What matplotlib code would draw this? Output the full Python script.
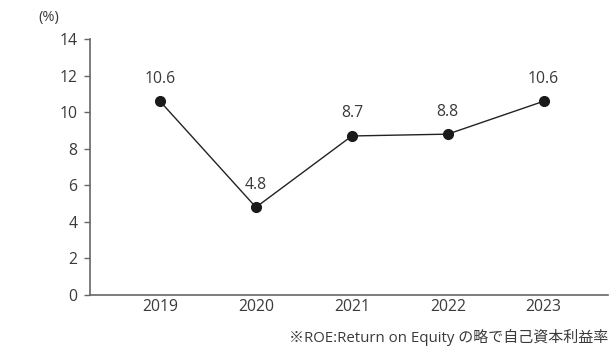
import matplotlib
matplotlib.use("Agg")
import matplotlib.pyplot as plt

# ------------------ データ ------------------
years = ["2019", "2020", "2021", "2022", "2023"]
roe = [10.6, 4.8, 8.7, 8.8, 10.6]
y_ticks = [0, 2, 4, 6, 8, 10, 12, 14]

plt.rcParams["font.family"] = ["Open Sans", "Noto Sans CJK JP", "DejaVu Sans"]

text_color = "#3a3a3a"
axis_color = "#666666"

fig = plt.figure(figsize=(6.11, 3.46), dpi=100)
ax = fig.add_axes([0.1473, 0.1474, 0.8477, 0.7396])

x = list(range(len(years)))
ax.plot(x, roe, color="#222222", linewidth=1, marker="o", markersize=7,
        markerfacecolor="#1a1a1a", markeredgecolor="#1a1a1a")

# データラベル
for xi, v in zip(x, roe):
    ax.annotate(f"{v:.1f}", (xi, v), xytext=(0, 10.5), textcoords="offset points",
                ha="center", va="bottom", fontsize=11.3, color=text_color)

ax.set_xlim(-0.73, 4.67)
ax.set_ylim(0, 14)
ax.set_yticks(y_ticks)
ax.set_xticks(x)
ax.set_xticklabels(years)

for side in ["top", "right"]:
    ax.spines[side].set_visible(False)
for side in ["left", "bottom"]:
    ax.spines[side].set_color(axis_color)
    ax.spines[side].set_linewidth(1.2)

ax.tick_params(axis="y", direction="out", length=4, width=1, color=axis_color,
               labelsize=11.3, labelcolor=text_color, pad=5)
ax.tick_params(axis="x", length=0, labelsize=11.3, labelcolor=text_color, pad=3)

# 単位・注記
fig.text(0.062, 0.948, "(%)", fontsize=10.5, color=text_color, ha="left", va="center")
fig.text(0.995, 0.026, "※ROE:Return on Equity の略で自己資本利益率", fontsize=10.8,
         color=text_color, ha="right", va="center")

fig.savefig("out.png", dpi=100)
